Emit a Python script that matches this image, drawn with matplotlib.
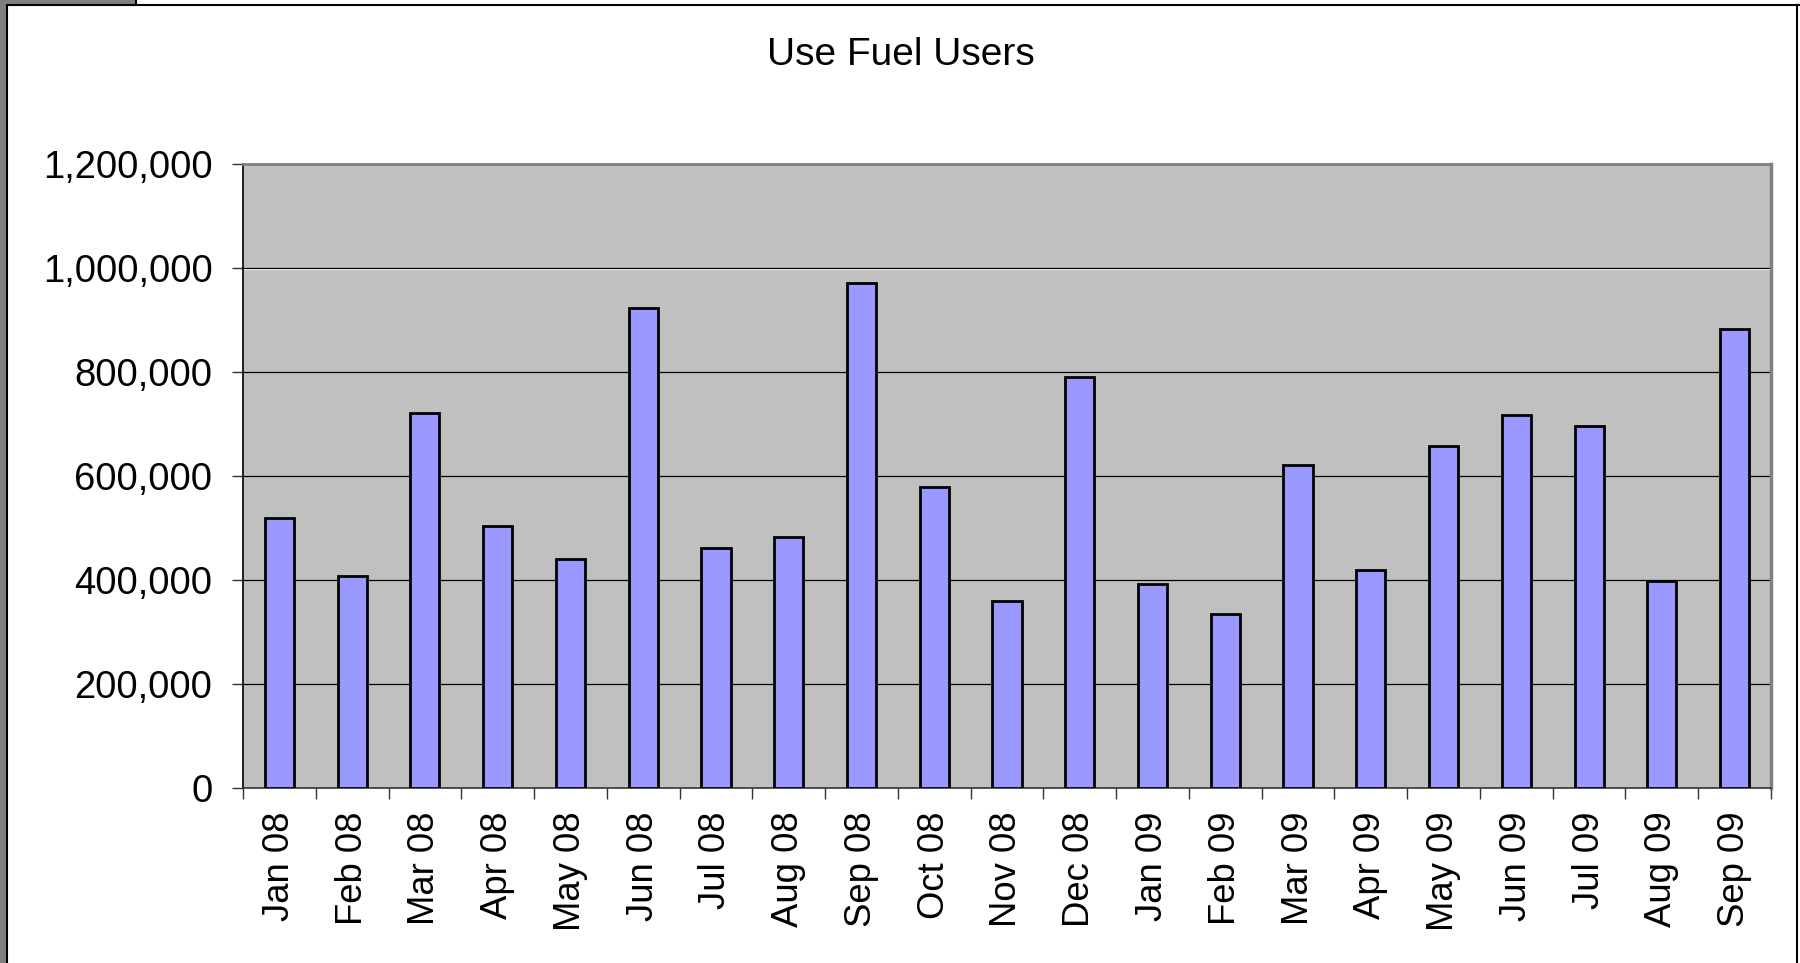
import numpy as np
import matplotlib
matplotlib.use("Agg")
import matplotlib.pyplot as plt
from matplotlib.lines import Line2D
from matplotlib.patches import Rectangle
from matplotlib.ticker import FuncFormatter

plt.rcParams['font.family'] = ['Liberation Sans', 'DejaVu Sans']

# data
months = ["Jan 08", "Feb 08", "Mar 08", "Apr 08", "May 08", "Jun 08", "Jul 08",
          "Aug 08", "Sep 08", "Oct 08", "Nov 08", "Dec 08", "Jan 09", "Feb 09",
          "Mar 09", "Apr 09", "May 09", "Jun 09", "Jul 09", "Aug 09", "Sep 09"]
users = [520000, 408000, 722000, 504000, 440000, 924000, 461000,
         483000, 971000, 578000, 360000, 790000, 392000, 334000,
         621000, 419000, 658000, 718000, 696000, 398000, 882000]
yticks = [0, 200000, 400000, 600000, 800000, 1000000, 1200000]
title = "Use Fuel Users"

W, H = 1800, 963
fig = plt.figure(figsize=(W / 100, H / 100), dpi=100)
fig.patch.set_facecolor('white')

# plot area in pixel coords
left, right, top, bottom = 243, 1771, 164, 788
ax = fig.add_axes([left / W, 1 - bottom / H, (right - left) / W, (bottom - top) / H])
ax.set_facecolor('#C0C0C0')

x = np.arange(len(months))
ax.bar(x, users, width=0.4, color='#9999FF', edgecolor='black', linewidth=2.0, zorder=3)

ax.set_xlim(-0.5, len(months) - 0.5)
ax.set_ylim(0, 1200000)

# gridlines (the 1,000,000 line has a light line just under it)
for v in yticks[1:-1]:
    ax.axhline(v, color='black', lw=0.9, zorder=1)
ax.axhline(1000000 - 2600, color='white', lw=0.9, zorder=0.9)

# y axis
ax.set_yticks(yticks)
ax.yaxis.set_major_formatter(FuncFormatter(lambda v, p: f"{int(v):,}"))
ax.tick_params(axis='y', length=8, width=1, direction='out', pad=14,
               labelsize=27.5, color='#333333')

# x axis: labels in centres, ticks on boundaries
ax.set_xticks(x)
ax.set_xticklabels(months, rotation=90)
ax.tick_params(axis='x', which='major', length=0, pad=17, labelsize=26.3)
ax.set_xticks(np.arange(-0.5, len(months)), minor=True)
ax.tick_params(axis='x', which='minor', length=8, width=1, direction='out',
               color='#333333')

ax.spines['left'].set_color('black')
ax.spines['left'].set_linewidth(1.2)
ax.spines['bottom'].set_color('#333333')
ax.spines['bottom'].set_linewidth(1.2)
ax.spines['top'].set_color('#808080')
ax.spines['top'].set_linewidth(2.0)
ax.spines['right'].set_color('#808080')
ax.spines['right'].set_linewidth(2.5)

fig.text(901 / W, 1 - 55 / H, title, ha='center', va='center', fontsize=28)

# frame of the slide around the chart
def px_line(xs, ys, **kw):
    fig.add_artist(Line2D([v / W for v in xs], [1 - v / H for v in ys],
                          transform=fig.transFigure, **kw))

fig.add_artist(Rectangle((0, 0), 6 / W, 1, transform=fig.transFigure,
                         color='#808080', lw=0))
fig.add_artist(Rectangle((0, 1 - 5 / H), 136 / W, 5 / H, transform=fig.transFigure,
                         color='#808080', lw=0))
px_line([6.5, 6.5], [5, H], color='black', lw=1.5)
px_line([6.5, W], [5, 5], color='black', lw=1.5)
px_line([136, 136], [0, 5], color='black', lw=1.5)
px_line([1797, 1797], [5, H], color='black', lw=1.5)

fig.savefig("out.png", dpi=100)
